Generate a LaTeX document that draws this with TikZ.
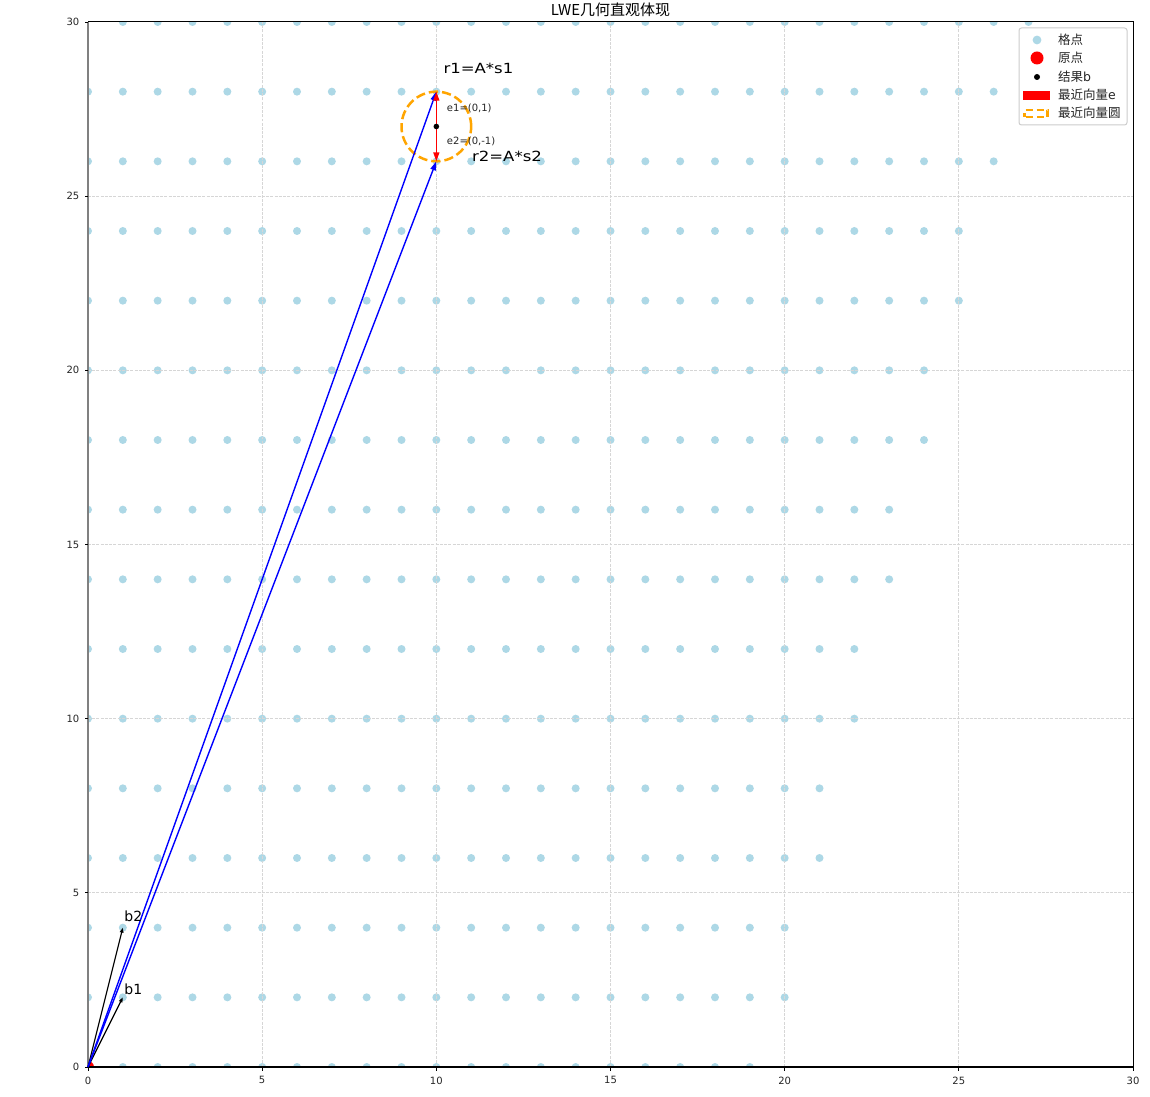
\documentclass[tikz,border=0pt]{standalone}
\usepackage{fontspec}
\setmainfont{DejaVu Sans}
\newfontfamily\widefont[FakeStretch=1.18]{DejaVu Sans}
\newfontfamily\cjk{Noto Sans CJK SC}
\usetikzlibrary{arrows.meta}
\definecolor{lblue}{RGB}{173,216,230}
\definecolor{orng}{RGB}{255,165,0}
\definecolor{gridc}{RGB}{214,214,214}
\definecolor{legedge}{RGB}{204,204,204}
\definecolor{spinegray}{RGB}{128,128,128}
\begin{document}
\begin{tikzpicture}[x=1pt,y=1pt,
  latdot/.style={fill=lblue},
  gridline/.style={gridc,line width=0.8pt,dash pattern=on 2.96pt off 1.28pt},
  tickmark/.style={black,line width=0.8pt},
  ticklab/.style={font=\fontsize{10}{12}\selectfont,inner sep=0pt,text=black!85},
  vecblue/.style={blue,line width=1.4pt,-{Triangle[length=9pt,width=5.5pt]}},
  vecblack/.style={black,line width=1.2pt,-{Triangle[length=5pt,width=3.6pt]}},
  vecred/.style={red,line width=1.4pt,-{Triangle[length=9pt,width=6pt]}},
  biglab/.style={font=\fontsize{14}{16}\selectfont,inner sep=0pt,anchor=base west},
  widelab/.style={font=\widefont\fontsize{14}{16}\selectfont,inner sep=0pt,anchor=base west},
  smalllab/.style={font=\fontsize{10}{12}\selectfont,inner sep=0pt,anchor=west,text=black!85},
  legtext/.style={font=\fontsize{12.5}{14}\selectfont,inner sep=0pt,anchor=west,text=black!85}
]
\useasboundingbox (0,0) rectangle (1150,1096);
\fill[white] (0,0) rectangle (1150,1096);

% title
\node[font=\fontsize{15}{17}\selectfont,inner sep=0pt,anchor=base] (title) at (610.5,1080.3) {\cjk LWE几何直观体现};

\begin{scope}[shift={(88,29)},x=34.8333pt,y=34.8333pt]
  % lattice points and origin, clipped to axes
  \begin{scope}
    \clip (0,0) rectangle (30,30);
    \foreach \yy/\xa/\xb in {0/0/19,2/0/20,4/0/20,6/0/21,8/0/21,10/0/22,12/0/22,14/0/23,16/0/23,18/0/24,20/0/24,22/0/25,24/0/25,26/0/26,28/0/26,30/1/27}{
      \foreach \xx in {\xa,...,\xb}{
        \fill[latdot] (\xx,\yy) circle (4pt);
      }
    }
    \fill[red] (0,0) circle (6pt);
  \end{scope}
  % grid
  \foreach \t in {5,10,15,20,25}{
    \draw[gridline] (\t,0) -- (\t,30);
    \draw[gridline] (0,\t) -- (30,\t);
  }
  % spines
  \draw[black,line width=1pt] (0,0) rectangle (30,30);
  \draw[spinegray,line width=1.6pt] (0,0) -- (0,30);
  \draw[black,line width=1.5pt] (0,0) -- (30,0);
  % ticks
  \foreach \t in {0,5,10,15,20,25,30}{
    \draw[tickmark] (\t,0) -- ++(0,-3.5pt);
    \node[ticklab,anchor=north] (xt\t) at ([yshift=-9.5pt]\t,0) {\t};
    \draw[tickmark] (0,\t) -- ++(-3.5pt,0);
    \node[ticklab,anchor=east] (yt\t) at ([xshift=-8.5pt]0,\t) {\t};
  }
  % key points
  \coordinate (O) at (0,0);
  \coordinate (B1) at (1,2);
  \coordinate (B2) at (1,4);
  \coordinate (R1) at (10,28);
  \coordinate (R2) at (10,26);
  \coordinate (Bp) at (10,27);
  % nearest-vector circle
  \draw[orng,line width=2.5pt,dash pattern=on 9.25pt off 4pt] (Bp) circle (34.8333pt);
  % vectors
  \draw[vecblack] (O) -- (B1);
  \draw[vecblack] (O) -- (B2);
  \draw[vecblue] (O) -- (R1);
  \draw[vecblue] (O) -- (R2);
  \draw[vecred] (Bp) -- (R1);
  \draw[vecred] (Bp) -- (R2);
  \fill[black] (Bp) circle (2.8pt);
  % labels
  \node[widelab] (lr1) at (10.2,28.53) {r1=A*s1};
  \node[widelab] (lr2) at (11.02,26.0) {r2=A*s2};
  \node[smalllab] (le1) at (10.3,27.53) {e1=(0,1)};
  \node[smalllab] (le2) at (10.3,26.58) {e2=(0,-1)};
  \node[biglab] (lb1) at (1.04,2.07) {b1};
  \node[biglab] (lb2) at (1.04,4.19) {b2};
\end{scope}

% legend
\draw[legedge,fill=white,line width=1pt,rounded corners=2.5pt] (1019,971) rectangle (1127,1068);
\fill[lblue] (1037,1056) circle (4.4pt);
\fill[red] (1037,1038) circle (6.5pt);
\fill[black] (1037,1019) circle (3pt);
\fill[red] (1023,996) rectangle (1050,1005);
\draw[orng,line width=2.5pt,dash pattern=on 7pt off 4pt,dash phase=3pt] (1024.5,979) rectangle (1047.5,986);
\node[legtext] (lg1) at (1058,1056) {\cjk 格点};
\node[legtext] (lg2) at (1058,1038) {\cjk 原点};
\node[legtext] (lg3) at (1058,1019) {{\cjk 结果}b};
\node[legtext] (lg4) at (1058,1001) {{\cjk 最近向量}e};
\node[legtext] (lg5) at (1058,983) {\cjk 最近向量圆};
\end{tikzpicture}
\end{document}
